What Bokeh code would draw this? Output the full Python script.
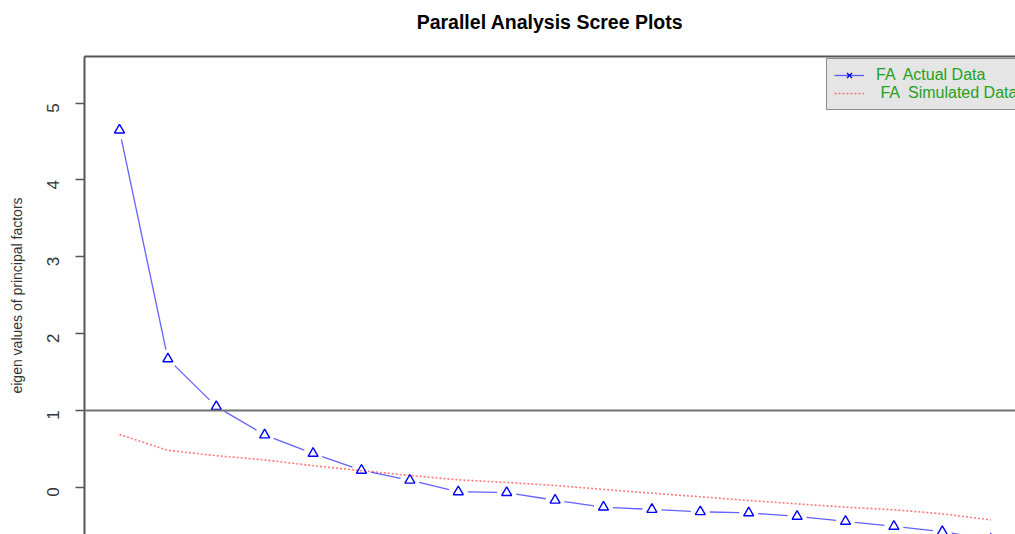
import math
import numpy as np
from bokeh.plotting import figure
from bokeh.models import (Range1d, LinearAxis, FixedTicker, Span, Legend,
                          LegendItem, ColumnDataSource)
from bokeh.embed import file_html
from bokeh.resources import INLINE

# ---- data ----
factors = list(range(1, 20))
actual = [4.65, 1.67, 1.05, 0.68, 0.44, 0.22, 0.09, -0.06, -0.07, -0.17,
          -0.26, -0.29, -0.32, -0.335, -0.38, -0.445, -0.51, -0.58, -0.68]
simulated = [0.686, 0.48, 0.41, 0.355, 0.28, 0.215, 0.152, 0.096, 0.061,
             0.022, -0.03, -0.078, -0.125, -0.173, -0.217, -0.26, -0.294,
             -0.347, -0.425]
y_ticks = [0, 1, 2, 3, 4, 5]
title_text = "Parallel Analysis Scree Plots"
ylab = "eigen values of principal factors"
leg_actual = "FA  Actual Data"
leg_sim = " FA  Simulated Data"

# ---- layout ----
W, H = 1015, 534
LEFT, TOP = 84, 56
x0, x1 = 0.277, 19.512
y0, y1 = -0.616, 5.608
FONT = "Liberation Sans"
AX = "#555555"
kx = (W - LEFT) / (x1 - x0)
ky = (H - TOP) / (y1 - y0)
x_box_right = x0 + (1025 - LEFT) / kx   # plot box continues past the window

p = figure(width=W, height=H, output_backend="svg", toolbar_location=None,
           x_range=Range1d(x0, x1), y_range=Range1d(y0, y1),
           x_axis_location=None, min_border_left=LEFT, min_border_top=TOP,
           min_border_bottom=0, min_border_right=0)
p.title.text = ""
p.xgrid.visible = False
p.ygrid.visible = False
p.outline_line_color = None
p.background_fill_color = "white"
p.border_fill_color = "white"

# y axis
yax = p.yaxis[0]
yax.ticker = FixedTicker(ticks=y_ticks)
yax.major_label_orientation = math.pi / 2
yax.major_tick_out = 9
yax.major_tick_in = 0
yax.minor_tick_out = 0
yax.minor_tick_in = 0
yax.axis_line_color = AX
yax.axis_line_width = 2
yax.major_tick_line_color = AX
yax.major_tick_line_width = 1.5
yax.major_label_text_font = FONT
yax.major_label_text_font_size = "17px"
yax.major_label_text_color = "#333333"
yax.major_label_standoff = 22
yax.axis_label = ylab
yax.axis_label_text_font = FONT
yax.axis_label_text_font_style = "normal"
yax.axis_label_text_font_size = "14px"
yax.axis_label_text_color = "#333333"
yax.axis_label_standoff = 14

# top border line of the box, carrying the main title
top_ax = LinearAxis(ticker=FixedTicker(ticks=[]), major_label_text_font_size="0px",
                    major_tick_out=0, major_tick_in=0, minor_tick_out=0,
                    minor_tick_in=0, axis_line_color=AX, axis_line_width=2,
                    major_label_standoff=0, bounds=(x0, x_box_right),
                    axis_label=title_text, axis_label_standoff=24,
                    axis_label_text_font=FONT, axis_label_text_font_size="19.5px",
                    axis_label_text_font_style="bold", axis_label_text_color="black")
p.add_layout(top_ax, "above")

# reference line at 1
p.add_layout(Span(location=1, dimension="width", line_color="#707070",
                  line_width=2))

# simulated data (dotted red)
sim_r = p.line(factors, simulated, line_color="#ff2020", line_alpha=0.6,
               line_width=1.6, line_dash="2 2")

# actual data: gapped segments (type="b") + open triangles
xs = np.array(factors, dtype=float)
ys = np.array(actual, dtype=float)
dx, dy = np.diff(xs), np.diff(ys)
L = np.hypot(dx * kx, dy * ky)
f = 9.5 / L
seg_src = ColumnDataSource(dict(x0=xs[:-1] + dx * f, y0=ys[:-1] + dy * f,
                                x1=xs[1:] - dx * f, y1=ys[1:] - dy * f))
seg_r = p.segment("x0", "y0", "x1", "y1", source=seg_src, line_color="#2020ff",
                  line_alpha=0.7, line_width=1.3)
p.scatter(factors, actual, marker="triangle", size=10, line_color="#0000ff",
          fill_color=None, line_width=1.4)

# x marker used only for the legend key (zero size in the plot area)
x_r = p.scatter(factors, actual, marker="x", size=0, line_color="#0000ff",
                line_width=1.3)

legend = Legend(items=[LegendItem(label=leg_actual, renderers=[seg_r, x_r]),
                       LegendItem(label=leg_sim, renderers=[sim_r])],
                location=(742, 424), margin=0, padding=7, spacing=0,
                label_height=18, glyph_height=18, glyph_width=30,
                label_standoff=12, label_text_font=FONT,
                label_text_font_size="16px", label_text_color="#24a024",
                background_fill_color="#e5e5e5", background_fill_alpha=1,
                border_line_color="#333333", border_line_width=1.5)
p.add_layout(legend)

open("out.html", "w").write(file_html(p, INLINE))
